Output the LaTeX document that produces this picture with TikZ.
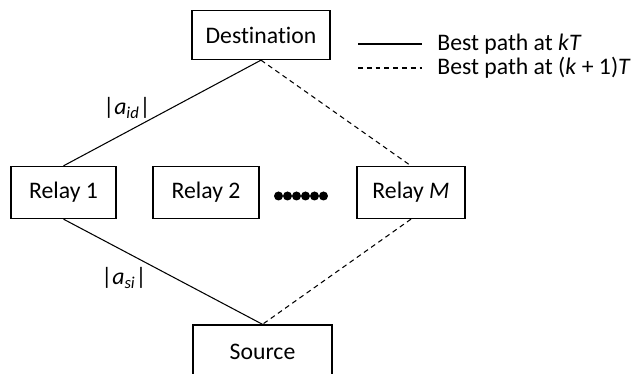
\documentclass[tikz,border=0pt]{standalone}
\usepackage{fontspec}
\setmainfont[Ligatures=NoCommon]{Carlito}
\usetikzlibrary{positioning, calc}

\begin{document}
\begin{tikzpicture}[
  font=\fontsize{13.5}{16}\selectfont,
  nodebox/.style={
    draw=black,
    line width=0.75pt,
    fill=white,
    align=center,
    minimum height=1.04cm,
    inner sep=0pt
  },
  link/.style={
    line width=0.6pt,
    draw=black
  },
  backup/.style={
    line width=0.6pt,
    draw=black,
    dash pattern=on 2.8pt off 2.2pt
  },
  weight/.style={
    inner sep=1pt
  }
]

\useasboundingbox (0,0) rectangle (12.72,7.48);

\node[nodebox, minimum width=2.76cm, minimum height=0.98cm] (dest) at (5.22,6.78) {Destination};

\node[nodebox, minimum width=2.10cm] (relay1) at (1.27,3.63) {Relay 1};
\node[nodebox, minimum width=2.12cm] (relay2) at (4.12,3.63) {Relay 2};
\node[nodebox, minimum width=2.16cm] (relayM) at (8.22,3.63) {Relay \textit{M}};

\node[nodebox, minimum width=2.78cm, minimum height=1.06cm] (source) at (5.25,0.45) {Source};

% dots between relays
\foreach \i in {0,...,5}
  \fill (5.57+\i*0.18,3.56) circle (0.09);

\draw[link] (dest.south) -- (relay1.north);
\draw[link] (relay1.south) -- (source.north);
\draw[backup] (dest.south) -- (relayM.north);
\draw[backup] (relayM.south) -- (source.north);

\node[weight] (aid) at (2.54,5.32) {|\textit{a}\textsubscript{\textit{id}}|};
\node[weight] (asi) at (2.48,1.92) {|\textit{a}\textsubscript{\textit{si}}|};

% legend
\coordinate (solidA) at (7.16,6.60);
\coordinate (solidB) at (8.44,6.60);
\coordinate (dashA) at (7.16,6.12);
\coordinate (dashB) at (8.44,6.12);
\draw[link] (solidA) -- (solidB);
\draw[backup] (dashA) -- (dashB);
\node[anchor=west, inner sep=0pt] (legkT) at (8.74,6.60) {Best path at \textit{kT}};
\node[anchor=west, inner sep=0pt] (legk1T) at (8.74,6.12) {Best path at (\textit{k} + 1)\textit{T}};

\end{tikzpicture}
\end{document}
